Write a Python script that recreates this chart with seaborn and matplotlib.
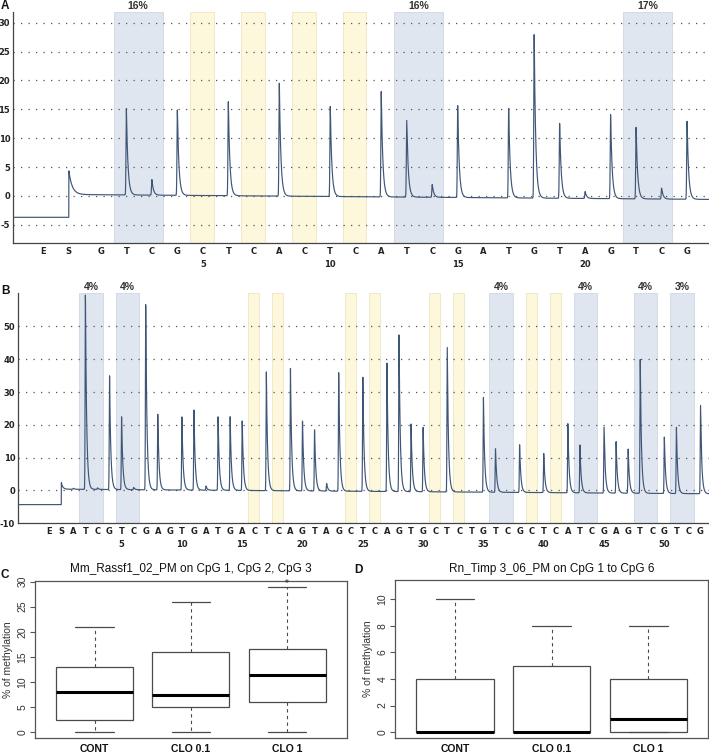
import numpy as np
import pandas as pd
import seaborn as sns
import matplotlib.pyplot as plt
from matplotlib.transforms import blended_transform_factory

# ---- panel A : pyrogram, dispensation order and peak heights
a_seq = list("GTCGCTCACTCATCGATGTAGTCG")
a_peaks = [0, 15.0, 2.7, 14.8, 0, 16.3, 0, 19.8, 0, 15.7, 0, 18.3,
           13.3, 2.2, 15.9, 0, 15.6, 28.7, 13.1, 1.2, 14.6, 12.4, 1.9, 13.5]
a_blue = [(2, 3), (13, 14), (22, 23)]
a_pct = ["16%", "16%", "17%"]
a_yellow = [5, 7, 9, 11]
a_base = [-3.7, 4.4, 0.25, -0.6]   # before S, S spike, after S, at the end

# ---- panel B
b_seq = list("ATCGTCGAGTGATGACTCAGTAGCTCAGTGCTCTGTCGCTCATCGAGTCGTCG")
b_peaks = [0.3, 59.8, 0.5, 35.3, 22.3, 0.7, 57.3, 23.1, 0, 22.5,
           24.4, 1.3, 22.5, 22.5, 21.5, 0, 36.6, 0, 37.3, 21.7,
           18.7, 2.3, 36.6, 0, 35.2, 0, 39.1, 48.7, 20.7, 19.7,
           0, 44.1, 0, 0, 28.9, 13.5, 0, 14.6, 0, 11.9,
           0, 21.2, 14.6, 0, 20.2, 15.8, 13.6, 40.8, 0, 17.3,
           20.2, 0, 27.0]
b_blue = [(2, 3), (5, 6), (36, 37), (43, 44), (48, 49), (51, 52)]
b_pct = ["4%", "4%", "4%", "4%", "4%", "3%"]
b_yellow = [16, 18, 24, 26, 31, 33, 39, 41]
b_base = [-4.3, 2.5, 0.4, -1.0]

# ---- panels C, D : box summaries (low whisker, q1, median, q3, high whisker)
groups = ["CONT", "CLO 0.1", "CLO 1"]
c_lo = [0, 0, 0]
c_q1 = [2.5, 5, 6]
c_med = [8, 7.5, 11.5]
c_q3 = [13, 16, 16.5]
c_hi = [21, 26, 29]
d_lo = [0, 0, 0]
d_q1 = [0, 0, 0]
d_med = [0, 0, 1]
d_q3 = [4, 5, 4]
d_hi = [10, 8, 8]

sns.set_style("white")
plt.rcParams["font.family"] = ["Liberation Sans", "DejaVu Sans"]

BLUE = "#e0e6f0"
YEL = "#fdf7dc"
LINE = "#3f5677"
W, H = 709, 756
fig = plt.figure(figsize=(W / 100, H / 100), dpi=100)


def px_axes(l, t, r, b):
    return fig.add_axes([l / W, 1 - b / H, (r - l) / W, (b - t) / H])


def make_trace(peaks, s_pos, lo, hi, base, tau, s_tau):
    x = np.linspace(lo, hi, 8000)
    pre, spike, after, end = base
    y = np.where(x < s_pos, pre, after + (end - after) * (x - s_pos) / (hi - s_pos))
    d = x - s_pos
    y = y + np.where(d >= 0, (spike - after) * np.exp(-np.clip(d, 0, None) / s_tau), 0)
    for p, h in enumerate(peaks, start=1):
        d = x - p
        y = y + h * np.where(d < 0, np.exp(-(d / (tau * 0.35)) ** 2),
                             np.exp(-np.clip(d, 0, None) / tau))
    return pd.DataFrame({"x": x, "y": y})


def pyrogram(ax, seq, peaks, e_pos, s_pos, xlim, ylim, yticks, grid, blue, pct,
             yellow, base, tau, s_tau, pct_y):
    ax.set_xlim(*xlim)
    ax.set_ylim(*ylim)
    for p in yellow:
        ax.axvspan(p - 0.5, p + 0.42, color=YEL, ec="#efe5c0", lw=0.6, zorder=0)
    trans = blended_transform_factory(ax.transData, ax.transAxes)
    for (p1, p2), lab in zip(blue, pct):
        ax.axvspan(p1 - 0.5, p2 + 0.42, color=BLUE, ec="#d0d7e3", lw=0.6, zorder=0)
        ax.text((p1 + p2) / 2 - 0.04, pct_y, lab, transform=trans, ha="center",
                va="center", fontsize=7.5, fontweight="bold", color="#333333",
                clip_on=False)
    for g in grid:
        ax.axhline(g, color="#555555", lw=0.9, ls=(0, (1, 5)), zorder=1)
    df = make_trace(peaks, s_pos, xlim[0], xlim[1], base, tau, s_tau)
    sns.lineplot(data=df, x="x", y="y", ax=ax, color=LINE, lw=0.85,
                 estimator=None, sort=False, zorder=3)
    pos = [e_pos, s_pos] + list(range(1, len(seq) + 1))
    labs = ["E", "S"] + [c + ("\n%d" % i if i % 5 == 0 else "")
                         for i, c in enumerate(seq, start=1)]
    ax.set_xticks(pos)
    ax.set_xticklabels(labs, fontfamily="DejaVu Sans", fontweight="bold",
                       fontsize=6, color="#222222", linespacing=1.5)
    ax.set_yticks(yticks)
    ax.set_yticklabels([str(v) for v in yticks], fontfamily="DejaVu Sans",
                       fontweight="bold", fontsize=6, color="#222222")
    ax.tick_params(axis="x", direction="in", length=3, width=0.8, pad=3,
                   color="#444444")
    ax.tick_params(axis="y", length=0, pad=2)
    for s in ["top", "right"]:
        ax.spines[s].set_visible(False)
    for s in ["left", "bottom"]:
        ax.spines[s].set_color("#444444")
        ax.spines[s].set_linewidth(0.9)
    ax.set_xlabel("")
    ax.set_ylabel("")


axA = px_axes(13, 12.3, 709, 243.3)
pyrogram(axA, a_seq, a_peaks, -1.28, -0.26, (-2.45, 24.86), (-8.2, 31.8),
         list(range(-5, 31, 5)), list(range(-5, 31, 5)), a_blue, a_pct,
         a_yellow, a_base, 0.06, 0.13, 1.029)

axB = px_axes(18, 293.3, 709, 523.3)
pyrogram(axB, b_seq, b_peaks, -1.0, 0.0, (-3.59, 53.7), (-10, 60.1),
         list(range(-10, 51, 10)), list(range(0, 51, 10)), b_blue, b_pct,
         b_yellow, b_base, 0.1, 0.12, 1.029)
axB.set_xticks(np.arange(-3, 54), minor=True)
axB.tick_params(axis="x", which="minor", direction="in", length=2, width=0.6,
                color="#444444")


def boxpanel(ax, lo, q1, med, q3, hi, ylim, yticks, title):
    stats = [dict(label=g, whislo=a, q1=b, med=c, q3=d, whishi=e, fliers=[])
             for g, a, b, c, d, e in zip(groups, lo, q1, med, q3, hi)]
    ax.bxp(stats, positions=[1, 2, 3], widths=0.8, showfliers=False,
           patch_artist=True, capwidths=0.4,
           boxprops=dict(facecolor="white", edgecolor="#4a4a4a", lw=0.9),
           medianprops=dict(color="black", lw=2.2, solid_capstyle="butt"),
           whiskerprops=dict(color="#4a4a4a", lw=0.8, ls=(0, (3, 3))),
           capprops=dict(color="#4a4a4a", lw=0.9))
    ax.set_xlim(0.38, 3.62)
    ax.set_ylim(*ylim)
    ax.set_yticks(yticks)
    ax.set_yticklabels([str(v) for v in yticks], rotation=90, va="center",
                       fontsize=7.5, color="#333333")
    ax.set_xticks([1, 2, 3])
    ax.set_xticklabels(groups, fontsize=7.5, fontweight="bold", color="#111111")
    ax.tick_params(axis="y", direction="out", length=3.5, width=0.8, pad=2,
                   color="#555555", left=True)
    ax.tick_params(axis="x", length=0, pad=4)
    for s in ax.spines.values():
        s.set_visible(True)
        s.set_color("#555555")
        s.set_linewidth(0.9)
    ax.set_ylabel("% of methylation", fontsize=7.5, color="#333333", labelpad=3)
    ax.set_title(title, fontsize=8.5, color="#111111", pad=6)


axC = px_axes(35, 580.7, 346.7, 738.3)
boxpanel(axC, c_lo, c_q1, c_med, c_q3, c_hi, (-1.16, 30.16),
         list(range(0, 31, 5)), "Mm_Rassf1_02_PM on CpG 1, CpG 2, CpG 3")
axC.text(3, 29.7, "*", ha="center", va="center", fontsize=7, color="#333333")

axD = px_axes(395, 580, 708.3, 738)
boxpanel(axD, d_lo, d_q1, d_med, d_q3, d_hi, (-0.44, 11.44),
         list(range(0, 11, 2)), "Rn_Timp 3_06_PM on CpG 1 to CpG 6")

for lab, x, y in [("A", 5, 6), ("B", 5, 291), ("C", 5, 575), ("D", 358, 570)]:
    fig.text(x / W, 1 - y / H, lab, ha="center", va="center", fontsize=8.5,
             fontweight="bold", color="#111111")

fig.savefig("out.png", dpi=100)
